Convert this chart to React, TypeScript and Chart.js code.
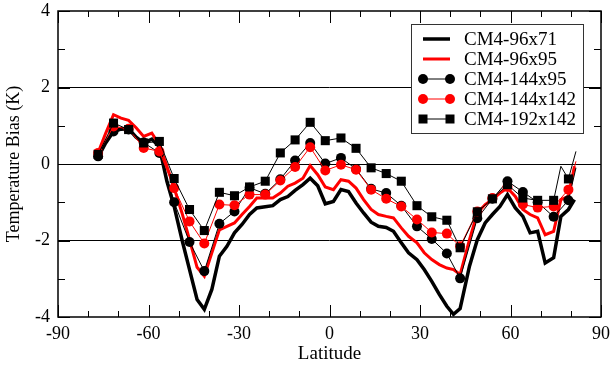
import React, { useEffect, useRef } from "react";
import { Chart, registerables } from "chart.js";

Chart.register(...registerables);

// ---------- data ----------
// fine-resolution latitudes (thick lines, no markers)
const latFine = [
  -76.7, -74.2, -71.6, -69.1, -66.6, -64.1, -61.6, -58.9, -56.4, -53.9, -51.5, -48.9, -46.4,
  -43.9, -41.5, -39.0, -36.5, -34.0, -31.5, -29.0, -26.5, -24.1, -21.3, -18.8, -16.3, -13.8,
  -11.4, -8.8, -6.4, -3.9, -1.4, 1.3, 3.8, 6.3, 8.8, 11.3, 13.8, 16.2, 18.8, 21.2, 23.8, 26.2,
  29.0, 31.4, 33.9, 36.4, 38.9, 41.1, 43.3, 46.4, 49.0, 51.6, 54.0, 56.5, 59.0, 61.6, 64.1,
  66.5, 69.0, 71.5, 74.3, 76.7, 79.2, 81.2,
];
const cm4_96x71 = [
  0.18, 0.55, 0.85, 0.92, 0.92, 0.7, 0.55, 0.65, 0.45, -0.45, -1.11, -1.98, -2.76,
  -3.54, -3.8, -3.28, -2.41, -2.15, -1.8, -1.58, -1.32, -1.15, -1.12, -1.09, -0.93, -0.85,
  -0.69, -0.54, -0.37, -0.57, -1.04, -0.98, -0.67, -0.72, -1.02, -1.28, -1.52, -1.63, -1.66, -1.76, -2.06, -2.32,
  -2.5, -2.76, -3.07, -3.41, -3.72, -3.93, -3.78, -2.67, -1.98, -1.54, -1.32, -1.11, -0.8, -1.15, -1.37,
  -1.8, -1.76, -2.59, -2.45, -1.37, -1.19, -0.93,
];
const cm4_96x95 = [
  0.3, 0.8, 1.29, 1.2, 1.14, 0.95, 0.72, 0.81, 0.5, -0.06, -0.63, -1.28, -1.98,
  -2.7, -2.93, -2.32, -1.72, -1.63, -1.54, -1.32, -1.11, -0.89, -0.89, -0.89, -0.76, -0.58,
  -0.5, -0.37, -0.04, -0.28, -0.6, -0.67, -0.41, -0.45, -0.63, -0.93, -1.19, -1.32, -1.37, -1.41, -1.67, -1.89,
  -2.06, -2.32, -2.5, -2.63, -2.72, -2.76, -2.89, -1.98, -1.28, -1.06, -0.93, -0.76, -0.63, -0.85, -1.19,
  -1.32, -1.41, -1.85, -1.76, -0.93, -0.85, -0.06,
];

// marker latitudes (~5 degree spacing)
const latCoarse = [
  -76.7, -71.6, -66.6, -61.6, -56.4, -51.5, -46.4, -41.5, -36.5, -31.5, -26.5, -21.3, -16.3, -11.4,
  -6.4, -1.4, 3.8, 8.8, 13.8, 18.8, 23.8, 29.0, 33.9, 38.9, 43.3, 49.0, 54.0, 59.0, 64.1, 69.0,
  74.3, 79.2,
];
const cm4_144x95 = [
  0.2, 0.85, 0.9, 0.56, 0.29, -1.0, -2.04, -2.8, -1.56, -1.24, -0.62, -0.78, -0.4, 0.09,
  0.55, 0.01, 0.16, -0.13, -0.65, -0.76, -1.09, -1.63, -1.96, -2.34, -2.99, -1.42, -0.91, -0.45, -0.73, -1.0,
  -1.38, -0.95,
];
const cm4_144x142 = [
  0.29, 0.98, 0.92, 0.42, 0.33, -0.63, -1.5, -2.08, -1.06, -1.08, -0.8, -0.8, -0.43, -0.08,
  0.44, -0.17, -0.02, -0.15, -0.67, -0.91, -1.11, -1.45, -1.79, -1.82, -2.15, -1.24, -0.89, -0.6, -1.06, -1.14,
  -1.11, -0.67,
];
const cm4_192x142 = [
  0.25, 1.07, 0.9, 0.55, 0.59, -0.38, -1.19, -1.74, -0.74, -0.83, -0.6, -0.45, 0.29, 0.63,
  1.09, 0.61, 0.68, 0.41, -0.1, -0.25, -0.45, -1.09, -1.38, -1.47, -2.19, -1.25, -0.91, -0.54, -0.89, -0.95,
  -0.95, -0.39,
];
// unmarked line ends of the marker series
const tail144x95Lat = [81.7];
const tail144x95 = [-0.1];
const tail144x142Lat = [81.7];
const tail144x142 = [0.07];
const tail192x142Lat = [76.7, 81.7];
const tail192x142 = [-0.06, 0.33];

const seriesNames = ["CM4-96x71", "CM4-96x95", "CM4-144x95", "CM4-144x142", "CM4-192x142"];
const xTickMajor = [-90, -60, -30, 0, 30, 60, 90];
const xTickMinor = [-80, -70, -50, -40, -20, -10, 10, 20, 40, 50, 70, 80];
const yTickMajor = [-4, -2, 0, 2, 4];
const yTickMinor = [-3, -1, 1, 3];
const yGridValues = [-2, 0, 2];

const FONT = "'Liberation Serif', 'Times New Roman', Times, serif";
const RED = "#ff0000";

function markerSeries(lat: number[], vals: number[], tLat: number[], tVals: number[]) {
  const pts = lat.map((x, i) => ({ x, y: vals[i], m: true }));
  tLat.forEach((x, i) => pts.push({ x, y: tVals[i], m: false }));
  pts.sort((a, b) => a.x - b.x);
  return pts;
}

const framePlugin = {
  id: "frame",
  afterDatasetsDraw(chart: any) {
    const { ctx, chartArea: a, scales } = chart;
    const xs = scales.x;
    const ys = scales.y;
    ctx.save();
    ctx.strokeStyle = "#000";
    ctx.lineWidth = 1;
    ctx.beginPath();
    const xt = (v: number, len: number) => {
      const px = Math.round(xs.getPixelForValue(v)) + 0.5;
      ctx.moveTo(px, a.bottom);
      ctx.lineTo(px, a.bottom - len);
      ctx.moveTo(px, a.top);
      ctx.lineTo(px, a.top + len);
    };
    const yt = (v: number, len: number) => {
      const py = Math.round(ys.getPixelForValue(v)) + 0.5;
      ctx.moveTo(a.left, py);
      ctx.lineTo(a.left + len, py);
      ctx.moveTo(a.right, py);
      ctx.lineTo(a.right - len, py);
    };
    xTickMajor.forEach((v) => xt(v, 12));
    xTickMinor.forEach((v) => xt(v, 6));
    yTickMajor.forEach((v) => yt(v, 12));
    yTickMinor.forEach((v) => yt(v, 7));
    ctx.stroke();
    ctx.lineWidth = 1.5;
    ctx.strokeRect(a.left, a.top, a.right - a.left, a.bottom - a.top);
    ctx.restore();
  },
  afterDraw(chart: any) {
    const { ctx, chartArea: a } = chart;
    const right = a.right - 18;
    const top = a.top + 13;
    const left = right - 172;
    const bottom = top + 109;
    ctx.save();
    ctx.fillStyle = "#fff";
    ctx.fillRect(left, top, right - left, bottom - top);
    ctx.strokeStyle = "#333";
    ctx.lineWidth = 1;
    ctx.strokeRect(left + 0.5, top + 0.5, right - left, bottom - top);
    const styles = [
      { color: "#000", width: 3.5, marker: "" },
      { color: RED, width: 3, marker: "" },
      { color: "#000", width: 1, marker: "circle" },
      { color: RED, width: 1, marker: "circle" },
      { color: "#000", width: 1, marker: "rect" },
    ];
    const x1 = left + 12;
    const x2 = left + 39;
    ctx.font = `19px ${FONT}`;
    ctx.textBaseline = "middle";
    ctx.textAlign = "left";
    seriesNames.forEach((name, i) => {
      const yy = top + 15 + i * 20;
      const s = styles[i];
      ctx.strokeStyle = s.color;
      ctx.fillStyle = s.color;
      ctx.lineWidth = s.width;
      ctx.beginPath();
      ctx.moveTo(x1, yy);
      ctx.lineTo(x2, yy);
      ctx.stroke();
      if (s.marker === "circle") {
        [x1, x2].forEach((px) => {
          ctx.beginPath();
          ctx.arc(px, yy, 5, 0, Math.PI * 2);
          ctx.fill();
        });
      } else if (s.marker === "rect") {
        [x1, x2].forEach((px) => ctx.fillRect(px - 4.5, yy - 4.5, 9, 9));
      }
      ctx.fillStyle = "#000";
      ctx.fillText(name, left + 53, yy + 1);
    });
    ctx.restore();
  },
};

export default function App() {
  const ref = useRef<HTMLCanvasElement | null>(null);
  useEffect(() => {
    if (!ref.current) return;
    const thin = (label: string, data: any[], color: string, style: string, r: number) => ({
      label,
      data,
      borderColor: color,
      backgroundColor: color,
      borderWidth: 1,
      pointStyle: style,
      pointRadius: (c: any) => (c.raw && c.raw.m ? r : 0),
      pointHoverRadius: 0,
      pointBorderWidth: 0,
      pointBackgroundColor: color,
      tension: 0,
    });
    const font = { family: FONT, size: 18 };
    const chart = new Chart(ref.current, {
      type: "line",
      data: {
        datasets: [
          thin(seriesNames[4], markerSeries(latCoarse, cm4_192x142, tail192x142Lat, tail192x142), "#000", "rect", 6.4),
          thin(seriesNames[3], markerSeries(latCoarse, cm4_144x142, tail144x142Lat, tail144x142), RED, "circle", 5),
          thin(seriesNames[2], markerSeries(latCoarse, cm4_144x95, tail144x95Lat, tail144x95), "#000", "circle", 5),
          {
            label: seriesNames[1],
            data: latFine.map((x, i) => ({ x, y: cm4_96x95[i] })),
            borderColor: RED,
            borderWidth: 3,
            pointRadius: 0,
            tension: 0,
          },
          {
            label: seriesNames[0],
            data: latFine.map((x, i) => ({ x, y: cm4_96x71[i] })),
            borderColor: "#000",
            borderWidth: 3.5,
            pointRadius: 0,
            tension: 0,
          },
        ],
      },
      options: {
        responsive: false,
        animation: false,
        events: [],
        layout: { padding: { left: 0, right: 9, top: 11, bottom: 0 } },
        plugins: { legend: { display: false }, tooltip: { enabled: false } },
        scales: {
          x: {
            type: "linear",
            min: -90,
            max: 90,
            afterFit: (s: any) => {
              s.height = 50;
              s.paddingLeft = 0;
              s.paddingRight = 0;
            },
            afterBuildTicks: (s: any) => {
              s.ticks = xTickMajor.map((v) => ({ value: v }));
            },
            border: { display: false },
            grid: { display: false, drawTicks: false },
            ticks: {
              padding: 6,
              color: "#000",
              font,
              maxRotation: 0,
              autoSkip: false,
            },
            title: {
              display: true,
              text: "Latitude",
              color: "#000",
              font: { family: FONT, size: 19 },
              padding: { top: 0, bottom: 2 },
            },
          },
          y: {
            type: "linear",
            min: -4,
            max: 4,
            afterFit: (s: any) => {
              s.width = 58;
              s.paddingTop = 0;
              s.paddingBottom = 0;
            },
            afterBuildTicks: (s: any) => {
              s.ticks = yTickMajor.map((v) => ({ value: v }));
            },
            border: { display: false },
            grid: {
              drawTicks: false,
              lineWidth: 1,
              color: (c: any) => (c.tick && yGridValues.includes(c.tick.value) ? "#000" : "rgba(0,0,0,0)"),
            },
            ticks: {
              padding: 8,
              color: "#000",
              font,
            },
            title: {
              display: true,
              text: "Temperature Bias (K)",
              color: "#000",
              font,
              padding: { top: 3, bottom: 0 },
            },
          },
        },
      },
      plugins: [framePlugin],
    } as any);
    return () => chart.destroy();
  }, []);
  return (
    <div style={{ position: "absolute", left: 0, top: 0, width: 610, height: 367, background: "#fff" }}>
      <canvas ref={ref} width={610} height={367} style={{ display: "block", width: 610, height: 367 }} />
    </div>
  );
}
